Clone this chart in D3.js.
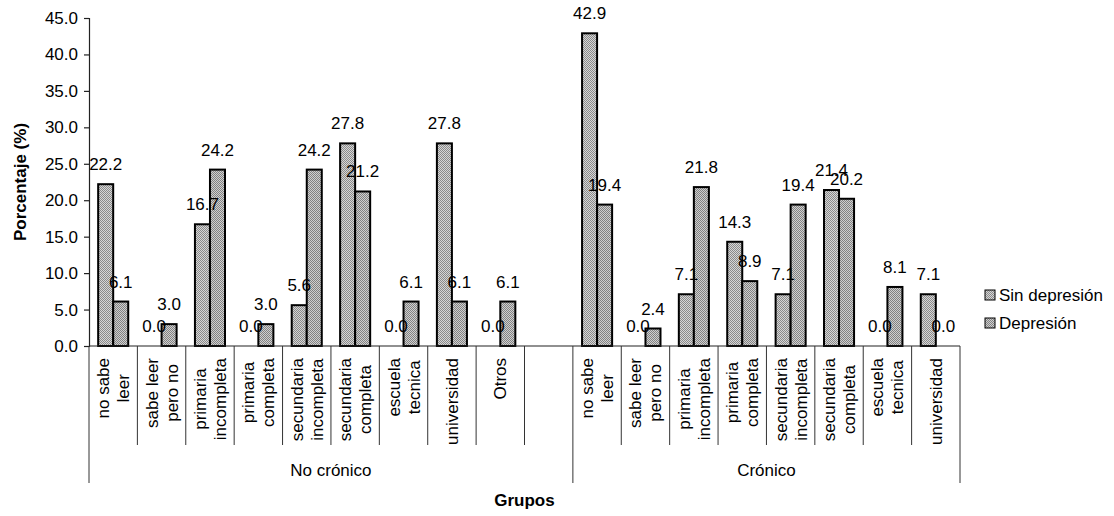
<!DOCTYPE html>
<html>
<head>
<meta charset="utf-8">
<script src="https://cdn.jsdelivr.net/npm/d3@7"></script>
<style>
  html, body { margin: 0; padding: 0; background: #fff; }
  svg { display: block; }
  text { font-family: "Liberation Sans", Arial, sans-serif; fill: #000; }
</style>
</head>
<body>
<svg id="chart" width="1114" height="516"></svg>
<script>
// ---- Data ----
const groups = ["No crónico", "Crónico"];
const categoriesNoCronico = ["no sabe\nleer", "sabe leer\npero no", "primaria\nincompleta", "primaria\ncompleta",
  "secundaria\nincompleta", "secundaria\ncompleta", "escuela\ntecnica", "universidad", "Otros", ""];
const categoriesCronico = ["no sabe\nleer", "sabe leer\npero no", "primaria\nincompleta", "primaria\ncompleta",
  "secundaria\nincompleta", "secundaria\ncompleta", "escuela\ntecnica", "universidad"];
const noCronicoSinDepresion = [22.2, 0.0, 16.7, 0.0, 5.6, 27.8, 0.0, 27.8, 0.0, null];
const noCronicoDepresion    = [6.1, 3.0, 24.2, 3.0, 24.2, 21.2, 6.1, 6.1, 6.1, null];
const cronicoSinDepresion   = [42.9, 0.0, 7.1, 14.3, 7.1, 21.4, 0.0, 7.1];
const cronicoDepresion      = [19.4, 2.4, 21.8, 8.9, 19.4, 20.2, 8.1, 0.0];
const seriesNames = ["Sin depresión", "Depresión"];
const yTicks = [0, 5, 10, 15, 20, 25, 30, 35, 40, 45];
const yTitle = "Porcentaje (%)";
const xTitle = "Grupos";

// ---- Build slots ----
const slots = [];
categoriesNoCronico.forEach((c, i) => slots.push({ id: "g0_" + i, group: 0, label: c,
  values: [noCronicoSinDepresion[i], noCronicoDepresion[i]] }));
categoriesCronico.forEach((c, i) => slots.push({ id: "g1_" + i, group: 1, label: c,
  values: [cronicoSinDepresion[i], cronicoDepresion[i]] }));

// ---- Layout ----
const plotLeft = 89, plotRight = 960, plotTop = 18, plotBase = 346;
const svg = d3.select("#chart");

const defs = svg.append("defs");
function makePattern(id, light, dark) {
  const p = defs.append("pattern").attr("id", id).attr("width", 2).attr("height", 2)
    .attr("patternUnits", "userSpaceOnUse");
  p.append("rect").attr("width", 2).attr("height", 2).attr("fill", light);
  p.append("rect").attr("width", 1).attr("height", 1).attr("fill", dark);
  p.append("rect").attr("x", 1).attr("y", 1).attr("width", 1).attr("height", 1).attr("fill", dark);
}
makePattern("pat0", "#d6d6d6", "#8a8a8a");
makePattern("pat1", "#cfcfcf", "#828282");
const fills = ["url(#pat0)", "url(#pat1)"];

const x0 = d3.scaleBand().domain(slots.map(s => s.id)).range([plotLeft, plotRight]).padding(0);
const x1 = d3.scaleBand().domain([0, 1]).range([0, x0.bandwidth()]).paddingInner(0).paddingOuter(0.61);
const y = d3.scaleLinear().domain([0, 45]).range([plotBase, plotTop]);

// Y axis
const yAxis = d3.axisLeft(y).tickValues(yTicks).tickFormat(d3.format(".1f"))
  .tickSize(5).tickSizeOuter(5).tickPadding(6);
const yg = svg.append("g").attr("transform", `translate(${plotLeft},0)`).call(yAxis);
yg.selectAll("path, line").attr("stroke", "#222").attr("stroke-width", 1.2);
yg.selectAll("text").style("font-size", "17px").style("font-family", "Liberation Sans, Arial, sans-serif").attr("fill", "#000");

// Bars
const bars = svg.append("g");
slots.forEach(s => {
  s.values.forEach((v, k) => {
    if (v === null) return;
    bars.append("rect")
      .attr("x", x0(s.id) + x1(k))
      .attr("y", y(v))
      .attr("width", x1.bandwidth())
      .attr("height", plotBase - y(v))
      .attr("fill", fills[k])
      .attr("stroke", "#000")
      .attr("stroke-width", 2);
  });
});

// X baseline
svg.append("line").attr("x1", plotLeft).attr("x2", plotRight).attr("y1", plotBase).attr("y2", plotBase)
  .attr("stroke", "#222").attr("stroke-width", 1.2);

// Category separators
const catBottom = 445, grpBottom = 483;
const boundaries = slots.map(s => x0(s.id)).concat([plotRight]);
boundaries.forEach((bx, i) => {
  const isGroup = (i === 0) || (i === boundaries.length - 1) || (slots[i] && slots[i - 1] && slots[i].group !== slots[i - 1].group);
  svg.append("line").attr("x1", bx).attr("x2", bx).attr("y1", plotBase).attr("y2", isGroup ? grpBottom : catBottom)
    .attr("stroke", "#333").attr("stroke-width", 1);
});

// Category labels (rotated)
const labelTop = 358, lineGap = 20;
slots.forEach(s => {
  if (!s.label) return;
  const lines = s.label.split("\n");
  const cx = x0(s.id) + x0.bandwidth() / 2;
  const g = svg.append("g");
  const texts = lines.map(ln => g.append("text").text(ln).style("font-size", "17px"));
  const maxLen = d3.max(texts, t => t.node().getComputedTextLength());
  const cy = labelTop + maxLen / 2;
  texts.forEach((t, j) => {
    const lx = cx + (j - (lines.length - 1) / 2) * lineGap + 6;
    t.attr("text-anchor", "middle")
      .attr("transform", `translate(${lx},${cy}) rotate(-90)`);
  });
});

// Value labels
const vl = svg.append("g");
slots.forEach(s => {
  s.values.forEach((v, k) => {
    if (v === null) return;
    vl.append("text")
      .attr("x", x0(s.id) + x1(k) + x1.bandwidth() / 2)
      .attr("y", y(v) - 14)
      .attr("text-anchor", "middle")
      .style("font-size", "17px")
      .text(d3.format(".1f")(v));
  });
});

// Group labels
groups.forEach((gname, gi) => {
  const gs = slots.filter(s => s.group === gi);
  const gx0 = x0(gs[0].id), gx1 = x0(gs[gs.length - 1].id) + x0.bandwidth();
  svg.append("text").attr("x", (gx0 + gx1) / 2).attr("y", 476).attr("text-anchor", "middle")
    .style("font-size", "17px").text(gname);
});

// Axis titles
svg.append("text").attr("x", (plotLeft + plotRight) / 2).attr("y", 506).attr("text-anchor", "middle")
  .style("font-size", "17px").style("font-weight", "bold").text(xTitle);
svg.append("text").attr("transform", `translate(26,182) rotate(-90)`).attr("text-anchor", "middle")
  .style("font-size", "17px").style("font-weight", "bold").text(yTitle);

// Legend
const lg = svg.append("g");
seriesNames.forEach((n, i) => {
  const ly = 295 + i * 28;
  lg.append("rect").attr("x", 985).attr("y", ly - 5).attr("width", 10).attr("height", 10)
    .attr("fill", fills[i]).attr("stroke", "#000").attr("stroke-width", 1);
  lg.append("text").attr("x", 999).attr("y", ly + 6).style("font-size", "17px").text(n);
});
</script>
</body>
</html>
